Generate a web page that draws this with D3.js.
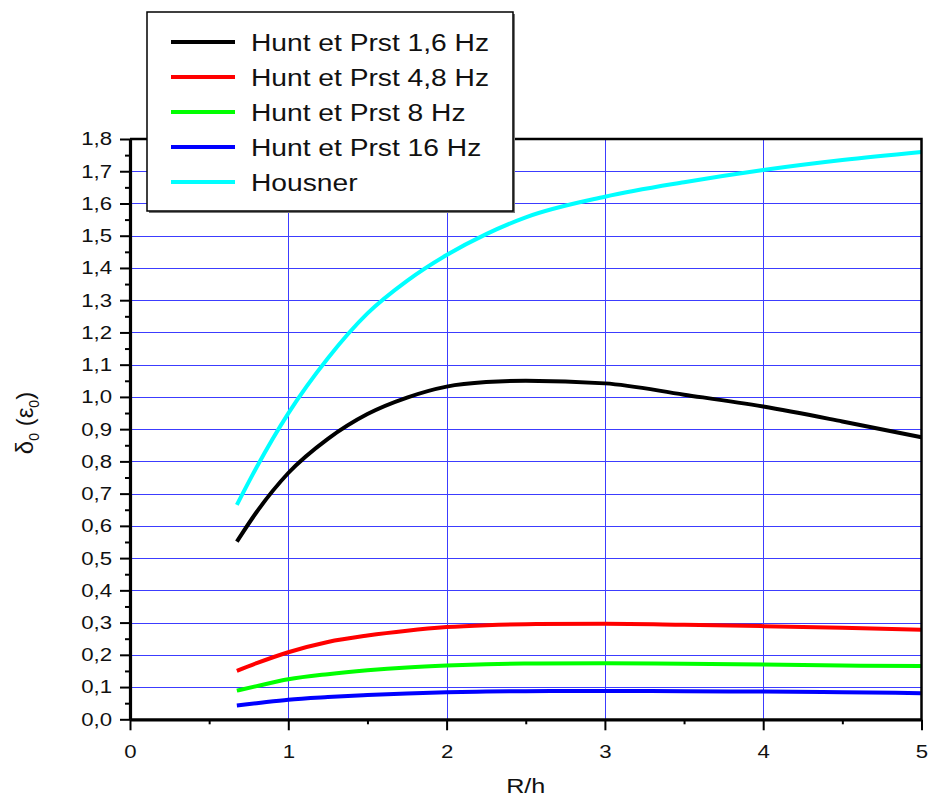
<!DOCTYPE html>
<html>
<head>
<meta charset="utf-8">
<script src="https://cdn.jsdelivr.net/npm/d3@7"></script>
<style>
  html, body { margin: 0; padding: 0; background: #fff; }
  svg { display: block; font-family: "Liberation Sans", Arial, sans-serif; }
</style>
</head>
<body>
<svg id="chart" width="930" height="803"></svg>
<script>
// R/h sample positions shared by every curve
const rh = [0.675, 0.8, 1.0, 1.25, 1.5, 1.75, 2.0, 2.25, 2.5, 3.0, 3.5, 4.0, 4.5, 5.0];

// δ0 (ε0) for each curve
const hunt16 = [0.551, 0.643, 0.764, 0.870, 0.947, 0.998, 1.032, 1.046, 1.050, 1.042, 1.007, 0.970, 0.924, 0.875];
const hunt48 = [0.150, 0.174, 0.208, 0.240, 0.260, 0.275, 0.286, 0.292, 0.295, 0.296, 0.293, 0.289, 0.284, 0.278];
const hunt8  = [0.089, 0.103, 0.124, 0.140, 0.152, 0.161, 0.167, 0.171, 0.173, 0.174, 0.172, 0.170, 0.167, 0.165];
const hunt16Hz = [0.043, 0.050, 0.061, 0.069, 0.075, 0.080, 0.084, 0.086, 0.087, 0.088, 0.087, 0.086, 0.084, 0.081];
const housner = [0.665, 0.782, 0.949, 1.120, 1.259, 1.360, 1.440, 1.505, 1.557, 1.621, 1.666, 1.704, 1.735, 1.760];

const seriesNames = ["Hunt et Prst 1,6 Hz", "Hunt et Prst 4,8 Hz", "Hunt et Prst 8 Hz", "Hunt et Prst 16 Hz", "Housner"];
const seriesColors = ["#000000", "#ff0000", "#00ff00", "#0000ff", "#00ffff"];
const seriesValues = [hunt16, hunt48, hunt8, hunt16Hz, housner];

const xTicks = [0, 1, 2, 3, 4, 5];
const yTicks = [0, 0.1, 0.2, 0.3, 0.4, 0.5, 0.6, 0.7, 0.8, 0.9, 1.0, 1.1, 1.2, 1.3, 1.4, 1.5, 1.6, 1.7, 1.8];

const svg = d3.select("#chart");
const pLeft = 130, pRight = 921.5, pTop = 139, pBottom = 719.3;
const SX = 1.2; // horizontal stretch of the lettering

const x = d3.scaleLinear().domain([0, 5]).range([pLeft, pRight]);
const y = d3.scaleLinear().domain([0, 1.8]).range([pBottom, pTop]);
const comma = v => d3.format(".1f")(v).replace(".", ",");

// grid
const grid = svg.append("g").attr("stroke", "#3c3cff").attr("stroke-width", 1);
grid.selectAll("line.h").data(yTicks.filter(v => v > 0 && v < 1.8)).join("line")
  .attr("x1", pLeft).attr("x2", pRight)
  .attr("y1", d => Math.round(y(d)) + 0.5).attr("y2", d => Math.round(y(d)) + 0.5);
grid.selectAll("line.v").data(xTicks.filter(v => v > 0 && v < 5)).join("line")
  .attr("y1", pTop).attr("y2", pBottom)
  .attr("x1", d => Math.round(x(d)) + 0.5).attr("x2", d => Math.round(x(d)) + 0.5);

// curves
const line = d3.line().x((d, i) => x(rh[i])).y(d => y(d)).curve(d3.curveMonotoneX);
svg.append("g").selectAll("path").data(seriesValues).join("path")
  .attr("d", d => line(d))
  .attr("fill", "none")
  .attr("stroke", (d, i) => seriesColors[i])
  .attr("stroke-width", 4)
  .attr("stroke-linejoin", "round");

// frame: top and right edges
svg.append("path")
  .attr("d", `M${pLeft},${pTop}H${pRight}V${pBottom}`)
  .attr("fill", "none").attr("stroke", "#000").attr("stroke-width", 2.5);

// left axis
const yAxis = svg.append("g").attr("transform", `translate(${pLeft},0)`)
  .call(d3.axisLeft(y).tickValues(yTicks).tickSize(10).tickSizeOuter(0).tickPadding(8).tickFormat(comma));
svg.append("g").attr("transform", `translate(${pLeft},0)`)
  .call(d3.axisLeft(y).tickValues(yTicks.slice(0, -1).map(v => v + 0.05)).tickSize(5).tickSizeOuter(0).tickFormat(""))
  .select(".domain").remove();

// bottom axis
const xAxis = svg.append("g").attr("transform", `translate(0,${pBottom})`)
  .call(d3.axisBottom(x).tickValues(xTicks).tickSize(11).tickSizeOuter(0).tickPadding(12).tickFormat(d3.format("d")));
svg.append("g").attr("transform", `translate(0,${pBottom})`)
  .call(d3.axisBottom(x).tickValues(xTicks.slice(0, -1).map(v => v + 0.5)).tickSize(5).tickSizeOuter(0).tickFormat(""))
  .select(".domain").remove();

svg.selectAll(".domain").attr("stroke", "#000").attr("stroke-width", 3.2);
svg.selectAll(".tick line").attr("stroke", "#000").attr("stroke-width", 2);

yAxis.selectAll(".tick text")
  .attr("fill", "#111").attr("font-size", 18.5).attr("font-family", "Liberation Sans, Arial, sans-serif")
  .attr("transform", function () { return `translate(${d3.select(this).attr("x")},0) scale(${SX},1)`; })
  .attr("x", 0);
xAxis.selectAll(".tick text")
  .attr("fill", "#111").attr("font-size", 18.5).attr("font-family", "Liberation Sans, Arial, sans-serif")
  .attr("transform", `scale(${SX},1)`)
  .attr("dy", "0.85em");

// axis titles
svg.append("text")
  .attr("transform", `translate(${(pLeft + pRight) / 2},793) scale(${SX},1)`)
  .attr("text-anchor", "middle").attr("font-size", 21).attr("fill", "#111")
  .text("R/h");

const yTitle = svg.append("text")
  .attr("transform", `translate(33,423) rotate(-90)`)
  .attr("text-anchor", "middle").attr("font-size", 24).attr("fill", "#111");
yTitle.append("tspan").text("δ");
yTitle.append("tspan").attr("font-size", 14).attr("dy", 6).text("0");
yTitle.append("tspan").attr("dy", -6).text(" (ε");
yTitle.append("tspan").attr("font-size", 14).attr("dy", 6).text("0");
yTitle.append("tspan").attr("dy", -6).text(")");

// legend
const lg = svg.append("g");
lg.append("rect").attr("x", 149).attr("y", 14).attr("width", 366).attr("height", 199).attr("fill", "#777");
lg.append("rect").attr("x", 147).attr("y", 12).attr("width", 366).attr("height", 199)
  .attr("fill", "#fff").attr("stroke", "#000").attr("stroke-width", 1.5);
const rows = lg.selectAll("g.row").data(seriesNames).join("g")
  .attr("transform", (d, i) => `translate(0,${42 + i * 35})`);
rows.append("line").attr("x1", 171).attr("x2", 235).attr("y1", 0).attr("y2", 0)
  .attr("stroke", (d, i) => seriesColors[i]).attr("stroke-width", 4);
rows.append("text")
  .attr("transform", `translate(251,8.5) scale(${SX},1)`)
  .attr("font-size", 23.5).attr("fill", "#111")
  .text(d => d);
</script>
</body>
</html>
